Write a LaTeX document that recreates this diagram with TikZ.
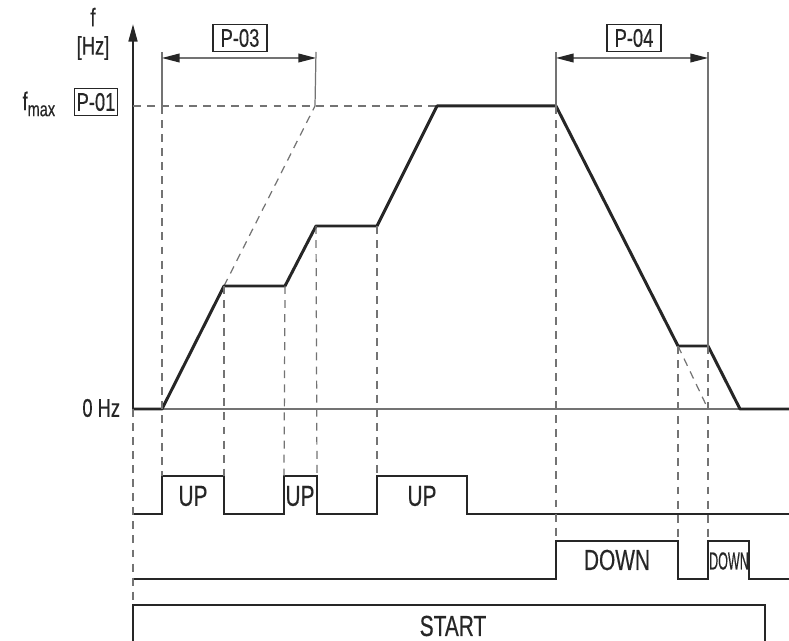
\documentclass[tikz,border=0pt]{standalone}
\usepackage{fontspec}
\setmainfont{Liberation Sans}[FakeStretch=0.72, FakeBold=0.4]
\usepackage{graphicx}
\usetikzlibrary{arrows.meta}

\begin{document}
\begin{tikzpicture}[x = 0.02cm, y = -0.02cm, line width = 1pt,
    curve/.style = {line width = 1.7pt, black!85, line join = round},
    pulse/.style = {line width = 1.3pt, black!85},
    guide/.style = {line width = 0.7pt, black!55},
    guidedash/.style = {guide, dash pattern = on 4.5pt off 3.5pt},
    tag/.style = {draw, line width = 0.8pt, black!85, text = black!85, minimum height = 0.54cm,
                  inner sep = 0pt, font = \fontsize{14.5}{14.5}\selectfont},
    lbl/.style = {text = black!85, inner sep = 0pt, font = \fontsize{14.5}{14.5}\selectfont},
    sig/.style = {text = black!85, inner sep = 0pt, font = \fontsize{16.5}{16.5}\selectfont},
    dimarrow/.style = {guide, {Triangle[length = 10pt, width = 5pt, color = black!85]}-{Triangle[length = 10pt, width = 5pt, color = black!85]}}]
  \useasboundingbox (0, 0) rectangle (789, 641);

  % frequency profile
  \coordinate (o) at (133, 409);
  \coordinate (ytop) at (133, 24);
  \coordinate (zend) at (789, 409);
  \coordinate (fm) at (133, 106);
  \coordinate (p1) at (162, 409);
  \coordinate (p2) at (224, 286);
  \coordinate (p3) at (285, 286);
  \coordinate (p4) at (316, 226);
  \coordinate (p5) at (377, 226);
  \coordinate (p6) at (437, 106);
  \coordinate (p7) at (556, 106);
  \coordinate (p8) at (678, 346);
  \coordinate (p9) at (708, 346);
  \coordinate (p10) at (740, 409);
  \coordinate (q3) at (315, 106);
  \coordinate (q9) at (708, 409);

  \draw [guide] (o) -- (zend);
  \draw [line width = 1.3pt, black!85, -{Triangle[length = 10pt, width = 5pt]}] (o) -- (ytop);
  \draw [guidedash] (fm) -- (p6);
  \draw [guidedash] (p2) -- (q3);
  \draw [guidedash] (p8) -- (q9);
  \draw [curve] (o) -- (p1) -- (p2) -- (p3) -- (p4) -- (p5) -- (p6) -- (p7)
                -- (p8) -- (p9) -- (p10) -- (zend);

  % labels
  \node [lbl] (f) at (93, 17) {f};
  \node [lbl] (hz) at (93, 48) {[Hz]};
  \node [lbl, anchor = east] (fmax) at (56, 104)
    {f\raisebox{-0.45ex}{\fontsize{11.5}{11.5}\selectfont max}};
  \node [tag, minimum width = 0.86cm] (p01) at (96, 102) {P-01};
  \node [lbl, anchor = east] (zero) at (121, 408) {0 Hz};

  % ramp times
  \coordinate (a1) at (162, 52);
  \coordinate (a2) at (316, 52);
  \coordinate (b1) at (556, 52);
  \coordinate (b2) at (708, 52);
  \node [tag, minimum width = 1.08cm] (p03) at (240, 38) {P-03};
  \node [tag, minimum width = 1.08cm] (p04) at (634, 38) {P-04};
  \draw [guide] (a1) -- (162, 106);
  \draw [guide] (a2) -- (q3);
  \draw [guide] (b1) -- (p7);
  \draw [guide] (b2) -- (p9);
  \draw [dimarrow] (162, 58) -- (316, 58);
  \draw [dimarrow] (556, 58) -- (708, 58);

  % UP signal
  \node [sig] (up1) at (193, 496) {UP};
  \node [sig] (up2) at (300, 496) {UP};
  \node [sig] (up3) at (422, 496) {UP};
  \draw [pulse] (133, 514) -- (162, 514) -- (162, 476) -- (224, 476) -- (224, 514)
                -- (284, 514) -- (284, 476) -- (317, 476) -- (317, 514)
                -- (377, 514) -- (377, 476) -- (467, 476) -- (467, 514) -- (789, 514);

  % DOWN signal
  \node [sig] (down1) at (617, 560) {DOWN};
  \node [sig] (down2) at (729, 561) {\scalebox{0.6}[0.85]{DOWN}};
  \draw [pulse] (133, 579) -- (556, 579) -- (556, 541) -- (678, 541) -- (678, 579)
                -- (708, 579) -- (708, 541) -- (749, 541) -- (749, 579) -- (789, 579);

  % START signal
  \node [sig] (start) at (453, 626) {START};
  \draw [pulse] (133, 645) -- (133, 605) -- (765, 605) -- (765, 645);

  % dashed guides
  \draw [guidedash] (162, 106) -- (162, 476);
  \draw [guidedash] (p2) -- (224, 476);
  \draw [guidedash] (p3) -- (284, 476);
  \draw [guidedash] (p4) -- (317, 476);
  \draw [guidedash] (p5) -- (377, 476);
  \draw [guidedash] (p7) -- (556, 541);
  \draw [guidedash] (p8) -- (678, 541);
  \draw [guidedash] (p9) -- (708, 541);
  \draw [guidedash] (o) -- (133, 605);

\end{tikzpicture}
\end{document}
